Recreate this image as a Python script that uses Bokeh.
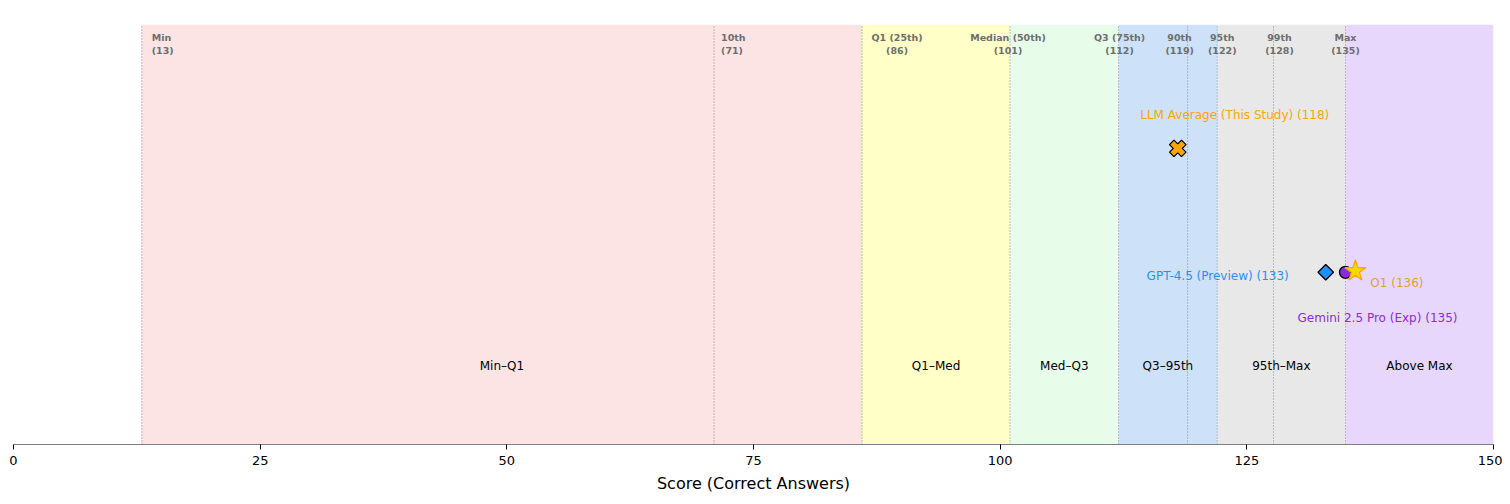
import math
from bokeh.plotting import figure
from bokeh.models import Range1d, FixedTicker, ColumnDataSource
from bokeh.core.properties import value
from bokeh.embed import file_html
from bokeh.resources import INLINE

# --- data ---
pct_names = ["Min", "10th", "Q1 (25th)", "Median (50th)", "Q3 (75th)", "90th", "95th", "99th", "Max"]
pct_scores = [13, 71, 86, 101, 112, 119, 122, 127.7, 135]
pct_labels = ["(13)", "(71)", "(86)", "(101)", "(112)", "(119)", "(122)", "(128)", "(135)"]

band_names = ["Min–Q1", "Q1–Med", "Med–Q3", "Q3–95th", "95th–Max", "Above Max"]
band_left = [13, 86, 101, 112, 122, 135]
band_right = [86, 101, 112, 122, 135, 150]
band_colors = ["#fbe4e3", "#ffffc8", "#e7fde9", "#cde2f9", "#e8e8e8", "#e8d7fc"]

model_names = ["GPT-4.5 (Preview)", "Gemini 2.5 Pro (Exp)", "O1"]
model_scores = [133, 135, 136]
llm_avg_name = "LLM Average (This Study)"
llm_avg_score = 118

FONT = value("DejaVu Sans")

p = figure(width=1502, height=496, output_backend="svg", toolbar_location=None,
           x_range=Range1d(0, 150), y_range=Range1d(0, 1),
           y_axis_location=None, min_border_left=13, min_border_right=9,
           min_border_top=24, min_border_bottom=52)
p.outline_line_color = None
p.xgrid.visible = False
p.ygrid.visible = False
p.background_fill_color = "white"
p.border_fill_color = "white"

# bands
p.quad(left=band_left, right=band_right, bottom=0, top=1, fill_color=band_colors,
       line_color=None)
p.text(x=[(l + r) / 2 for l, r in zip(band_left, band_right)], y=[0.186] * len(band_names),
       text=band_names, text_align="center", text_baseline="middle",
       text_font=FONT, text_font_size="12px", text_color="black")

# percentile lines
p.segment(x0=pct_scores, x1=pct_scores, y0=0, y1=1, line_color="#888888",
          line_dash="1 2", line_width=1)

# percentile labels
offs = [10, 7, 35, -2, 1, -8, 5, 6, 0]
aligns = ["left", "left", "center", "center", "center", "center", "center", "center", "center"]
ptxt = [f"{n}\n{l}" for n, l in zip(pct_names, pct_labels)]
src = ColumnDataSource(dict(x=pct_scores, y=[1] * 9, text=ptxt, xo=offs, al=aligns))
p.text(x="x", y="y", text="text", x_offset="xo", y_offset=7, text_align="al",
       text_baseline="top", text_font=FONT, text_font_size="9.5px",
       text_font_style="bold", text_color="#6e6e6e", text_line_height=1.25, source=src)

# markers
Y_AVG = 0.705
Y_MOD = 0.41
p.scatter(x=[llm_avg_score], y=[Y_AVG], marker="plus", angle=math.pi / 4, size=17,
          fill_color="#FFA500", line_color="black", line_width=1.3)
p.scatter(x=[model_scores[0]], y=[Y_MOD], marker="square", angle=math.pi / 4, size=11,
          fill_color="#1E90FF", line_color="black", line_width=1.3)
p.scatter(x=[model_scores[1]], y=[Y_MOD], marker="circle", size=12,
          fill_color="#8A2BE2", line_color="black", line_width=1.3)
p.scatter(x=[model_scores[2]], y=[Y_MOD + 0.003], marker="star", size=22,
          fill_color="#FFD700", line_color="#FFA500", line_width=1.3)

# marker labels
p.text(x=[llm_avg_score], y=[Y_AVG], text=[f"{llm_avg_name} ({llm_avg_score})"],
       x_offset=57, y_offset=-33, text_align="center", text_baseline="middle",
       text_font=FONT, text_font_size="12px", text_color="#FFA500")
p.text(x=[model_scores[0]], y=[Y_MOD], text=[f"{model_names[0]} ({model_scores[0]})"],
       x_offset=-37, y_offset=4, text_align="right", text_baseline="middle",
       text_font=FONT, text_font_size="12px", text_color="#1E90FF")
p.text(x=[model_scores[1]], y=[Y_MOD], text=[f"{model_names[1]} ({model_scores[1]})"],
       x_offset=32, y_offset=46, text_align="center", text_baseline="middle",
       text_font=FONT, text_font_size="12px", text_color="#8A2BE2")
p.text(x=[model_scores[2]], y=[Y_MOD], text=[f"{model_names[2]} ({model_scores[2]})"],
       x_offset=15, y_offset=11, text_align="left", text_baseline="middle",
       text_font=FONT, text_font_size="12px", text_color="#E0A030")

# axis
ax = p.xaxis[0]
ax.ticker = FixedTicker(ticks=[0, 25, 50, 75, 100, 125, 150])
ax.axis_label = "Score (Correct Answers)"
ax.axis_label_text_font = "DejaVu Sans"
ax.axis_label_text_font_size = "16px"
ax.axis_label_text_font_style = "normal"
ax.axis_label_text_color = "black"
ax.axis_label_standoff = 6
ax.major_label_text_font = "DejaVu Sans"
ax.major_label_text_font_size = "13px"
ax.major_label_text_color = "black"
ax.axis_line_color = "#808080"
ax.axis_line_width = 1.2
ax.major_tick_line_color = "black"
ax.major_tick_out = 5
ax.major_tick_in = 0
ax.minor_tick_line_color = None
ax.major_label_standoff = 6

open("out.html", "w").write(file_html(p, INLINE))
